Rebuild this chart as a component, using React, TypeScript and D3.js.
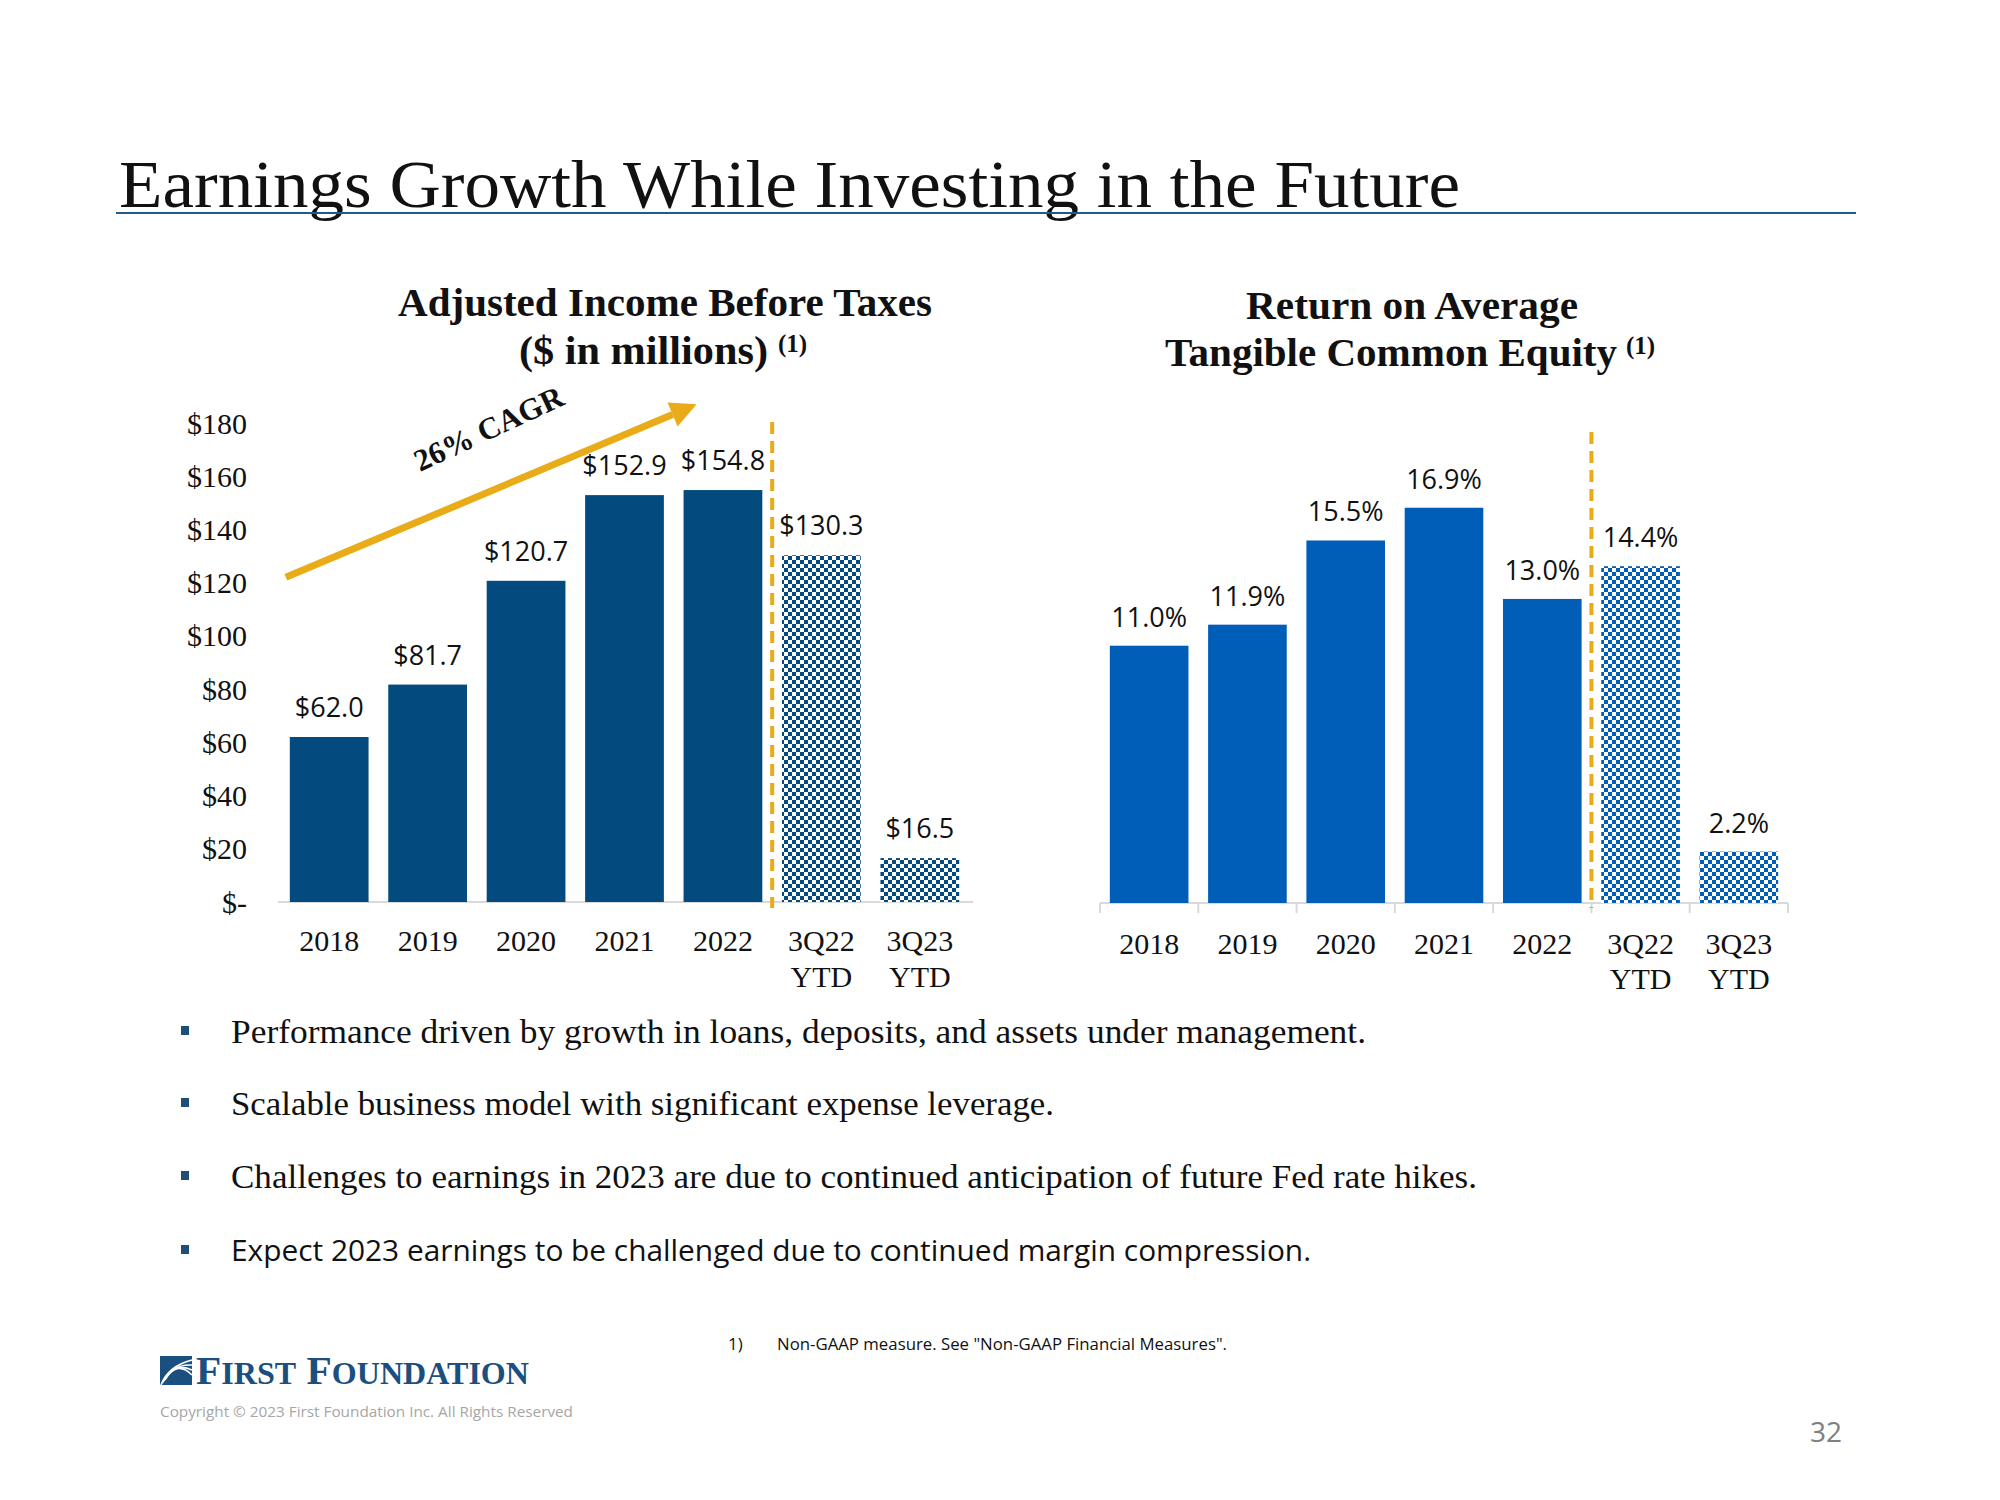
import React from "react";
import * as d3 from "d3";

const categories = ["2018", "2019", "2020", "2021", "2022", "3Q22", "3Q23"];
const categorySub = ["", "", "", "", "", "YTD", "YTD"];
const incomeValues = [62.0, 81.7, 120.7, 152.9, 154.8, 130.3, 16.5];
const roeValues = [11.0, 11.9, 15.5, 16.9, 13.0, 14.4, 2.2];
const patterned = [false, false, false, false, false, true, true];
const incomeTicks = [0, 20, 40, 60, 80, 100, 120, 140, 160, 180];
const bullets = [
  "Performance driven by growth in loans, deposits, and assets under management.",
  "Scalable business model with significant expense leverage.",
  "Challenges to earnings in 2023 are due to continued anticipation of future Fed rate hikes.",
  "Expect 2023 earnings to be challenged due to continued margin compression.",
];
const bulletWidths = [1135, 823, 1246, 1080];

const NAVY = "#034A7E";
const BLUE = "#005EB8";
const GOLD = "#E9AB17";
const SERIF = "'Liberation Serif', 'DejaVu Serif', serif";
const SANS = "'Open Sans', 'Noto Sans', sans-serif";

export default function App() {
  const xL = d3.scaleBand<string>().domain(categories).range([278, 971]).paddingInner(0.2).paddingOuter(0.12);
  const yL = d3.scaleLinear().domain([0, 180]).range([902, 423]);
  const xR = d3.scaleBand<string>().domain(categories).range([1100, 1788]).paddingInner(0.2).paddingOuter(0.1);
  const yR = d3.scaleLinear().domain([0, 18]).range([903, 482]);

  const dashL = xL(categories[5])! - (xL.step() * 0.2) / 2;
  const dashR = xR(categories[5])! - (xR.step() * 0.2) / 2;

  const arrowStart: [number, number] = [xL(categories[0])! - 4, yL(122)];
  const arrowEnd: [number, number] = [xL(categories[4])! + 13, yL(187)];
  const ang = Math.atan2(arrowEnd[1] - arrowStart[1], arrowEnd[0] - arrowStart[0]);
  const headLen = 26, headW = 13;
  const hx = arrowEnd[0] - headLen * Math.cos(ang);
  const hy = arrowEnd[1] - headLen * Math.sin(ang);
  const px = -Math.sin(ang), py = Math.cos(ang);
  const head = `M${arrowEnd[0]},${arrowEnd[1]} L${hx + px * headW},${hy + py * headW} L${hx - px * headW},${hy - py * headW} Z`;

  return (
    <svg width={2000} height={1500} style={{ position: "absolute", left: 0, top: 0, background: "#fff" }}>
      <defs>
        <pattern id="chkNavy" width={8} height={8} patternUnits="userSpaceOnUse">
          <rect width={8} height={8} fill="#fff" />
          <rect width={4} height={4} fill={NAVY} />
          <rect x={4} y={4} width={4} height={4} fill={NAVY} />
        </pattern>
        <pattern id="chkBlue" width={8} height={8} patternUnits="userSpaceOnUse">
          <rect width={8} height={8} fill="#fff" />
          <rect width={4} height={4} fill={BLUE} />
          <rect x={4} y={4} width={4} height={4} fill={BLUE} />
        </pattern>
      </defs>

      {/* Title */}
      <text x={119} y={207} fontFamily={SERIF} fontSize={68} fill="#111" textLength={1341} lengthAdjust="spacingAndGlyphs">
        Earnings Growth While Investing in the Future
      </text>
      <line x1={116} x2={1856} y1={213} y2={213} stroke="#1F5B86" strokeWidth={2} />

      {/* Left chart title */}
      <text x={398} y={316} fontFamily={SERIF} fontWeight="bold" fontSize={39} fill="#111" textLength={534} lengthAdjust="spacingAndGlyphs">
        Adjusted Income Before Taxes
      </text>
      <text x={519} y={364} fontFamily={SERIF} fontWeight="bold" fontSize={39} fill="#111" textLength={249} lengthAdjust="spacingAndGlyphs">
        ($ in millions)
      </text>
      <text x={778} y={352} fontFamily={SERIF} fontWeight="bold" fontSize={25} fill="#111">(1)</text>

      {/* Right chart title */}
      <text x={1246} y={319} fontFamily={SERIF} fontWeight="bold" fontSize={39} fill="#111" textLength={332} lengthAdjust="spacingAndGlyphs">
        Return on Average
      </text>
      <text x={1165} y={366} fontFamily={SERIF} fontWeight="bold" fontSize={39} fill="#111" textLength={452} lengthAdjust="spacingAndGlyphs">
        Tangible Common Equity
      </text>
      <text x={1626} y={354} fontFamily={SERIF} fontWeight="bold" fontSize={25} fill="#111">(1)</text>

      {/* Left chart */}
      <g>
        {incomeTicks.map((t) => (
          <text key={t} x={247} y={yL(t)} dy="0.35em" textAnchor="end" fontFamily={SERIF} fontSize={30} fill="#111">
            {t === 0 ? "$-" : `$${t}`}
          </text>
        ))}
        <line x1={278} x2={973} y1={yL(0)} y2={yL(0)} stroke="#D9D9D9" strokeWidth={2} />
        {categories.map((c, i) => (
          <g key={c}>
            <rect
              x={xL(c)!}
              y={yL(incomeValues[i])}
              width={xL.bandwidth()}
              height={yL(0) - yL(incomeValues[i])}
              fill={patterned[i] ? "url(#chkNavy)" : NAVY}
            />
            <text x={xL(c)! + xL.bandwidth() / 2} y={yL(incomeValues[i]) - 20} textAnchor="middle" fontFamily={SANS} fontSize={27} fill="#111">
              {`$${incomeValues[i].toFixed(1)}`}
            </text>
            <text x={xL(c)! + xL.bandwidth() / 2} y={951} textAnchor="middle" fontFamily={SERIF} fontSize={30} fill="#111">
              {c}
            </text>
            {categorySub[i] && (
              <text x={xL(c)! + xL.bandwidth() / 2} y={987} textAnchor="middle" fontFamily={SERIF} fontSize={30} fill="#111">
                {categorySub[i]}
              </text>
            )}
          </g>
        ))}
        <line x1={dashL} x2={dashL} y1={422} y2={908} stroke={GOLD} strokeWidth={4} strokeDasharray="12,7" />
        <line x1={arrowStart[0]} y1={arrowStart[1]} x2={hx} y2={hy} stroke={GOLD} strokeWidth={7} />
        <path d={head} fill={GOLD} />
        <text transform={`translate(493,438) rotate(-25)`} textAnchor="middle" fontFamily={SERIF} fontWeight="bold" fontSize={31} fill="#111">
          26% CAGR
        </text>
      </g>

      {/* Right chart */}
      <g>
        <line x1={1100} x2={1788} y1={yR(0)} y2={yR(0)} stroke="#D9D9D9" strokeWidth={2} />
        {[...categories.map((c) => xR(c)! - (xR.step() * 0.2) / 2), 1788].map((x, i) => (
          <line key={i} x1={x} x2={x} y1={yR(0)} y2={yR(0) + 10} stroke="#D9D9D9" strokeWidth={2} />
        ))}
        {categories.map((c, i) => (
          <g key={c}>
            <rect
              x={xR(c)!}
              y={yR(roeValues[i])}
              width={xR.bandwidth()}
              height={yR(0) - yR(roeValues[i])}
              fill={patterned[i] ? "url(#chkBlue)" : BLUE}
            />
            <text x={xR(c)! + xR.bandwidth() / 2} y={yR(roeValues[i]) - 19} textAnchor="middle" fontFamily={SANS} fontSize={27} fill="#111">
              {`${roeValues[i].toFixed(1)}%`}
            </text>
            <text x={xR(c)! + xR.bandwidth() / 2} y={954} textAnchor="middle" fontFamily={SERIF} fontSize={30} fill="#111">
              {c}
            </text>
            {categorySub[i] && (
              <text x={xR(c)! + xR.bandwidth() / 2} y={989} textAnchor="middle" fontFamily={SERIF} fontSize={30} fill="#111">
                {categorySub[i]}
              </text>
            )}
          </g>
        ))}
        <line x1={dashR} x2={dashR} y1={432} y2={908} stroke={GOLD} strokeWidth={4} strokeDasharray="12,7" />
      </g>

      {/* Bullets */}
      {bullets.map((b, i) => {
        const y = [1031, 1103, 1176, 1250][i];
        return (
          <g key={i}>
            <rect x={181} y={y - 5} width={8} height={9} fill="#1F4E79" />
            <text
              x={231}
              y={y}
              dy="0.35em"
              fontFamily={i === 3 ? SANS : SERIF}
              fontSize={i === 3 ? 30 : 34}
              fill="#111"
              textLength={bulletWidths[i]}
              lengthAdjust="spacingAndGlyphs"
            >
              {b}
            </text>
          </g>
        );
      })}

      {/* Footnote */}
      <text x={728} y={1350} fontFamily={SANS} fontSize={17} fill="#111">1)</text>
      <text x={777} y={1350} fontFamily={SANS} fontSize={17} fill="#111" textLength={450} lengthAdjust="spacingAndGlyphs">
        Non-GAAP measure. See "Non-GAAP Financial Measures".
      </text>

      {/* Logo */}
      <g>
        <rect x={160} y={1356} width={32} height={29} fill="#1B4F80" />
        {[0, 1, 2, 3].map((k) => (
          <path
            key={k}
            d={`M${161 + k * 1.5},${1385 - k * 2} Q${168 + k * 3},${1366 - k * 2} ${192},${1360 + k * 5}`}
            stroke="#fff"
            strokeWidth={1.6}
            fill="none"
          />
        ))}
        <text x={196} y={1384} fontFamily={SERIF} fontWeight="bold" fill="#1B4F80" fontSize={40} textLength={333} lengthAdjust="spacingAndGlyphs">
          F<tspan fontSize={31}>IRST</tspan> F<tspan fontSize={31}>OUNDATION</tspan>
        </text>
        <text x={160} y={1417} fontFamily={SANS} fontSize={15} fill="#A6A6A6" textLength={413} lengthAdjust="spacingAndGlyphs">
          Copyright © 2023 First Foundation Inc. All Rights Reserved
        </text>
      </g>

      <text x={1826} y={1442} textAnchor="middle" fontFamily={SANS} fontSize={28} fill="#808080">32</text>
    </svg>
  );
}
